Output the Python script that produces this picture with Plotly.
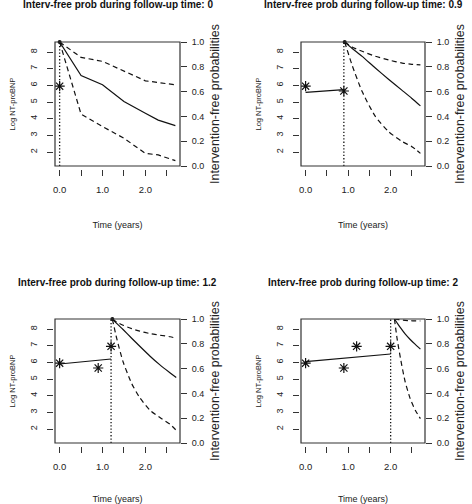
import plotly.graph_objects as go

# ---------------- data ----------------
followup_times = [0, 0.9, 1.2, 2]

obs_times = [0.0, 0.9, 1.2, 2.0]
obs_logntprobnp = [5.95, 5.66, 6.96, 6.96]

fit_p1_times = []
fit_p1_vals = []
fit_p2_times = [0.0, 0.9]
fit_p2_vals = [5.58, 5.74]
fit_p3_times = [0.0, 1.2]
fit_p3_vals = [5.90, 6.20]
fit_p4_times = [0.0, 2.0]
fit_p4_vals = [6.04, 6.50]

p1_times = [0.0, 0.25, 0.5, 1.0, 1.5, 2.0, 2.3, 2.7]
p1_mean = [1.0, 0.86, 0.73, 0.655, 0.52, 0.425, 0.37, 0.326]
p1_upper = [1.0, 0.935, 0.876, 0.844, 0.768, 0.687, 0.673, 0.655]
p1_lower = [1.0, 0.70, 0.418, 0.318, 0.224, 0.102, 0.089, 0.043]

p2_times = [0.92, 1.09, 1.33, 1.64, 1.95, 2.27, 2.5, 2.7]
p2_mean = [1.0, 0.95, 0.884, 0.79, 0.70, 0.61, 0.545, 0.485]
p2_upper = [1.0, 0.96, 0.925, 0.885, 0.855, 0.83, 0.82, 0.815]
p2_lower = [1.0, 0.817, 0.60, 0.40, 0.278, 0.197, 0.156, 0.102]

p3_times = [1.23, 1.33, 1.48, 1.68, 1.87, 2.11, 2.34, 2.58, 2.72]
p3_mean = [1.0, 0.965, 0.915, 0.845, 0.78, 0.70, 0.63, 0.565, 0.528]
p3_upper = [1.0, 0.975, 0.95, 0.922, 0.902, 0.882, 0.869, 0.857, 0.845]
p3_lower = [1.0, 0.846, 0.655, 0.48, 0.365, 0.264, 0.205, 0.15, 0.102]

p4_times = [2.09, 2.15, 2.23, 2.34, 2.46, 2.58, 2.7]
p4_mean = [1.0, 0.97, 0.93, 0.88, 0.835, 0.795, 0.757]
p4_upper = [1.0, 0.997, 0.993, 0.989, 0.986, 0.985, 0.984]
p4_lower = [1.0, 0.846, 0.685, 0.496, 0.358, 0.264, 0.197]

x_tickvals = [0, 0.5, 1.0, 1.5, 2.0, 2.5]
x_ticktext = ["0.0", "", "1.0", "", "2.0", ""]
left_tickvals = [2, 3, 4, 5, 6, 7, 8]
right_tickvals = [0, 0.2, 0.4, 0.6, 0.8, 1.0]

title_text = "Interv-free prob during follow-up time: "
xlabel = "Time (years)"
ylabel_left = "Log NT-proBNP"
ylabel_right = "Intervention-free probabilities"

# ---------------- layout geometry ----------------
W, H = 472, 504
cols = [(55, 180), (301, 425)]
rows = [(42, 166), (319, 443)]

fits = [(fit_p1_times, fit_p1_vals), (fit_p2_times, fit_p2_vals),
        (fit_p3_times, fit_p3_vals), (fit_p4_times, fit_p4_vals)]
survs = [(p1_times, p1_mean, p1_upper, p1_lower),
         (p2_times, p2_mean, p2_upper, p2_lower),
         (p3_times, p3_mean, p3_upper, p3_lower),
         (p4_times, p4_mean, p4_upper, p4_lower)]

FONT = "Liberation Sans, Arial, Helvetica, sans-serif"
INK = "#111111"
BOX = "#333333"

fig = go.Figure()
layout = dict(
    width=W, height=H, autosize=False,
    margin=dict(l=0, r=0, t=0, b=0),
    paper_bgcolor="white", plot_bgcolor="white",
    showlegend=False, font=dict(family=FONT, color="#222", size=10),
)
annotations = []
shapes = []

for i in range(4):
    r, c = divmod(i, 2)
    x0, x1 = cols[c]
    y0, y1 = rows[r]
    xd = [x0 / W, x1 / W]
    yd = [1 - y1 / H, 1 - y0 / H]
    n = i + 1
    xa = "x" if n == 1 else f"x{n}"
    yl = "y" if n == 1 else f"y{n}"
    yr = f"y{n + 4}"
    xkey = "xaxis" if n == 1 else f"xaxis{n}"
    ylkey = "yaxis" if n == 1 else f"yaxis{n}"
    yrkey = f"yaxis{n + 4}"

    layout[xkey] = dict(
        domain=xd, range=[-0.108, 2.808], anchor="free",
        position=1 - (y1 + 3) / H,
        showgrid=False, zeroline=False, showline=False,
        ticks="outside", ticklen=6, tickwidth=1, tickcolor=BOX,
        tickvals=x_tickvals, ticktext=x_ticktext,
        tickfont=dict(size=9.5, color="#222"), ticklabelstandoff=6,
        title=dict(text=xlabel, font=dict(size=9, color="#222"), standoff=27),
        automargin=False, fixedrange=True,
    )
    layout[ylkey] = dict(
        domain=yd, range=[1.16, 8.6], anchor="free",
        position=(x0 - 2) / W,
        showgrid=False, zeroline=False, showline=False,
        ticks="outside", ticklen=6, tickwidth=1, tickcolor=BOX,
        tickvals=left_tickvals, tickangle=-90,
        tickfont=dict(size=9, color="#222"), ticklabelstandoff=6,
        title=dict(text=ylabel_left, font=dict(size=7.5, color="#222"), standoff=11),
        automargin=False, fixedrange=True,
    )
    layout[yrkey] = dict(
        domain=yd, range=[0, 1], overlaying=yl, side="right", anchor=xa,
        showgrid=False, zeroline=False, showline=False,
        ticks="outside", ticklen=6, tickwidth=1, tickcolor=BOX,
        tickvals=right_tickvals, tickformat=".1f",
        tickfont=dict(size=9, color="#222"), ticklabelstandoff=3,
        title=dict(text=ylabel_right, font=dict(size=12.4, color="#222"), standoff=7),
        automargin=False, fixedrange=True,
    )

    # plot box
    shapes.append(dict(type="rect", xref=f"{xa} domain", yref=f"{yl} domain",
                       x0=0, x1=1, y0=0, y1=1,
                       line=dict(color=BOX, width=1.2), layer="above"))

    # panel title
    annotations.append(dict(
        text=f"<b>{title_text}{followup_times[i]}</b>",
        xref="paper", yref="paper",
        x=(x0 + x1) / 2 / W, y=1 - (y0 - 37) / H,
        xanchor="center", yanchor="middle", showarrow=False,
        font=dict(size=10, color="#111"),
    ))

    # longitudinal fit
    ft, fv = fits[i]
    if ft:
        fig.add_trace(go.Scatter(x=ft, y=fv, mode="lines", xaxis=xa, yaxis=yl,
                                 line=dict(color=INK, width=1.2), hoverinfo="skip"))
    # observed values
    fig.add_trace(go.Scatter(
        x=obs_times[:n], y=obs_logntprobnp[:n], mode="markers", xaxis=xa, yaxis=yl,
        marker=dict(symbol="asterisk-open", size=8.5, color=INK,
                    line=dict(color=INK, width=1.2)),
        hoverinfo="skip"))

    # follow-up dotted line
    fig.add_trace(go.Scatter(
        x=[followup_times[i], followup_times[i]], y=[0, 1], mode="lines",
        xaxis=xa, yaxis=yr, line=dict(color=INK, width=1.3, dash="1.3px,2px"),
        hoverinfo="skip", cliponaxis=False))

    # survival curves
    st, sm, su, sl = survs[i]
    shape = "linear" if i == 0 else "spline"
    fig.add_trace(go.Scatter(x=st, y=su, mode="lines", xaxis=xa, yaxis=yr,
                             line=dict(color=INK, width=1.2, dash="5px,3.5px",
                                       shape=shape, smoothing=0.6),
                             hoverinfo="skip"))
    fig.add_trace(go.Scatter(x=st, y=sl, mode="lines", xaxis=xa, yaxis=yr,
                             line=dict(color=INK, width=1.2, dash="5px,3.5px",
                                       shape=shape, smoothing=0.6),
                             hoverinfo="skip"))
    fig.add_trace(go.Scatter(x=st, y=sm, mode="lines", xaxis=xa, yaxis=yr,
                             line=dict(color=INK, width=1.2, shape=shape, smoothing=0.6),
                             hoverinfo="skip"))
    if i < 3:
        fig.add_trace(go.Scatter(x=[st[0]], y=[sm[0]], mode="markers", xaxis=xa, yaxis=yr,
                                 marker=dict(symbol="circle", size=4, color=INK),
                                 hoverinfo="skip", cliponaxis=False))

layout["annotations"] = annotations
layout["shapes"] = shapes
fig.update_layout(**layout)
fig.write_html("out.html", config={"displayModeBar": False},
               post_script="document.body.style.margin='0px';document.body.style.overflow='hidden';")
